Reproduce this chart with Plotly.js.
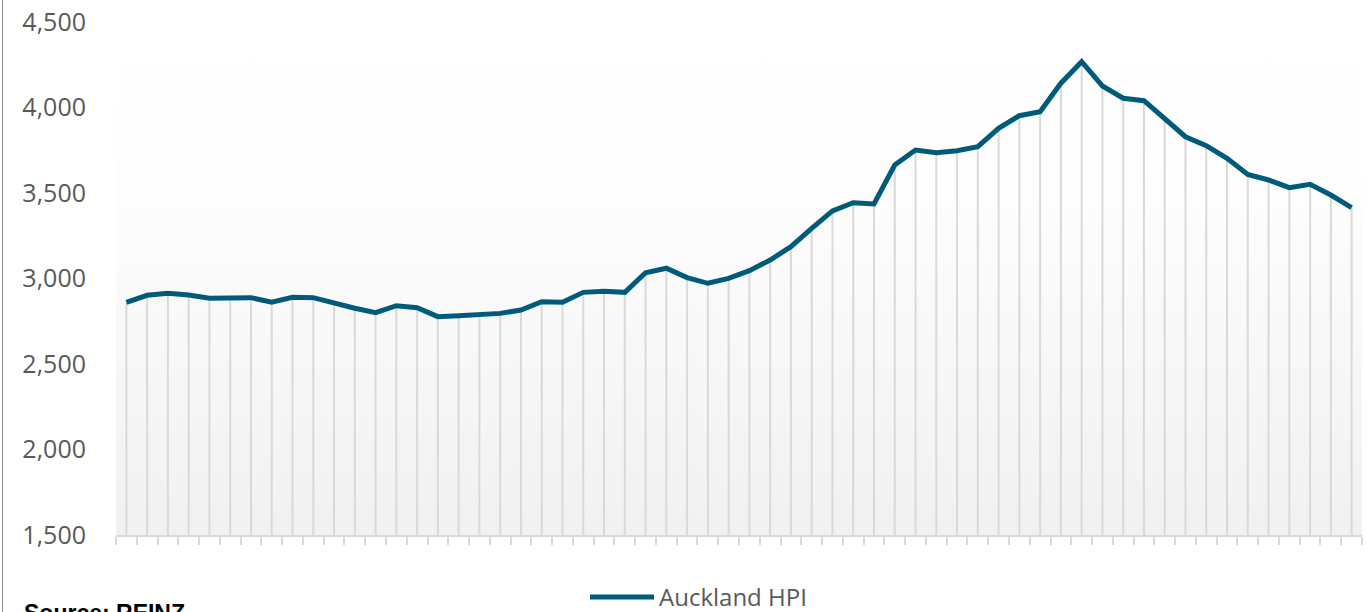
<!DOCTYPE html>
<html>
<head>
<meta charset="utf-8">
<script src="https://cdn.plot.ly/plotly-3.0.1.min.js"></script>
<style>
  html, body { margin:0; padding:0; background:#ffffff; overflow:hidden; }
  #wrap { position:relative; width:1367px; height:612px; }
  #bg { position:absolute; left:116px; top:22px; width:1246px; height:513px;
        background:linear-gradient(to bottom, #ffffff 0%, #fdfdfd 35%, #f1f1f1 100%); }
  #frame { position:absolute; left:2px; top:0; width:1px; height:612px; background:#8c8c8c; }
  #chart { position:absolute; left:0; top:0; width:1367px; height:612px; }
</style>
</head>
<body>
<div id="wrap">
  <div id="bg"></div>
  <div id="frame"></div>
  <div id="chart"></div>
</div>
<script>
// Category index (no labels shown on the x axis in the original)
const categories = ["1","2","3","4","5","6","7","8","9","10",
  "11","12","13","14","15","16","17","18","19","20",
  "21","22","23","24","25","26","27","28","29","30",
  "31","32","33","34","35","36","37","38","39","40",
  "41","42","43","44","45","46","47","48","49","50",
  "51","52","53","54","55","56","57","58","59","60"];

// Auckland HPI values
const aucklandHPI = [2861, 2902, 2913, 2904, 2884, 2888, 2888, 2861, 2890, 2888,
  2855, 2826, 2800, 2841, 2829, 2777, 2782, 2791, 2796, 2816,
  2864, 2861, 2919, 2925, 2919, 3034, 3060, 3005, 2972, 3001,
  3046, 3108, 3186, 3293, 3395, 3443, 3436, 3664, 3751, 3736,
  3747, 3771, 3878, 3952, 3975, 4142, 4268, 4126, 4054, 4040,
  3937, 3829, 3777, 3703, 3609, 3576, 3531, 3551, 3488, 3414];

const yTickVals = [1500, 2000, 2500, 3000, 3500, 4000, 4500];
const yTickText = ["1,500", "2,000", "2,500", "3,000", "3,500", "4,000", "4,500"];
const seriesName = "Auckland HPI";
const sourceText = "Source: REINZ";

const yMin = yTickVals[0];
const yMax = yTickVals[yTickVals.length - 1];

// Drop lines from each point down to the axis (drawn via error bars)
const dropTrace = {
  type: 'scatter', mode: 'markers',
  x: categories, y: aucklandHPI,
  marker: { size: 1, opacity: 0 },
  error_y: {
    type: 'data', symmetric: false,
    array: aucklandHPI.map(() => 0),
    arrayminus: aucklandHPI.map(v => v - yMin),
    color: '#d9d9d9', thickness: 2, width: 0
  },
  hoverinfo: 'skip', showlegend: false
};

const lineTrace = {
  type: 'scatter', mode: 'lines',
  x: categories, y: aucklandHPI,
  name: seriesName,
  line: { color: '#005b7a', width: 5, shape: 'linear' },
  showlegend: false
};

const layout = {
  width: 1367, height: 612,
  margin: { l: 116, r: 5, t: 22, b: 77 },
  paper_bgcolor: 'rgba(0,0,0,0)',
  plot_bgcolor: 'rgba(0,0,0,0)',
  font: { family: 'Open Sans, sans-serif', color: '#595959' },
  xaxis: {
    type: 'category',
    range: [-0.5, categories.length - 0.5],
    showticklabels: false,
    showgrid: false, zeroline: false,
    showline: true, linecolor: '#d9d9d9', linewidth: 2,
    ticks: 'outside', tickson: 'boundaries', ticklen: 8,
    tickcolor: '#d9d9d9', tickwidth: 2, dtick: 1
  },
  yaxis: {
    range: [yMin, yMax],
    tickvals: yTickVals, ticktext: yTickText,
    showgrid: false, zeroline: false, showline: false,
    ticks: 'outside', ticklen: 24, tickcolor: 'rgba(0,0,0,0)',
    tickfont: { size: 25, color: '#595959', family: 'Open Sans, sans-serif' }
  },
  shapes: [
    { type: 'line', xref: 'paper', yref: 'paper',
      x0: (590 - 116) / 1246, x1: (654 - 116) / 1246,
      y0: -62 / 513, y1: -62 / 513,
      line: { color: '#005b7a', width: 5 } }
  ],
  annotations: [
    { xref: 'paper', yref: 'paper',
      x: (657 - 116) / 1246, y: -61 / 513,
      xanchor: 'left', yanchor: 'middle', showarrow: false,
      text: seriesName,
      font: { size: 24, color: '#595959', family: 'Open Sans, sans-serif' } },
    { xref: 'paper', yref: 'paper',
      x: (22 - 116) / 1246, y: -63 / 513,
      xanchor: 'left', yanchor: 'top', showarrow: false,
      text: '<b>' + sourceText + '</b>',
      font: { size: 23, color: '#000000', family: 'Liberation Sans, Arial, sans-serif' } }
  ]
};

Plotly.newPlot('chart', [dropTrace, lineTrace], layout, { displayModeBar: false, staticPlot: true });
</script>
</body>
</html>
